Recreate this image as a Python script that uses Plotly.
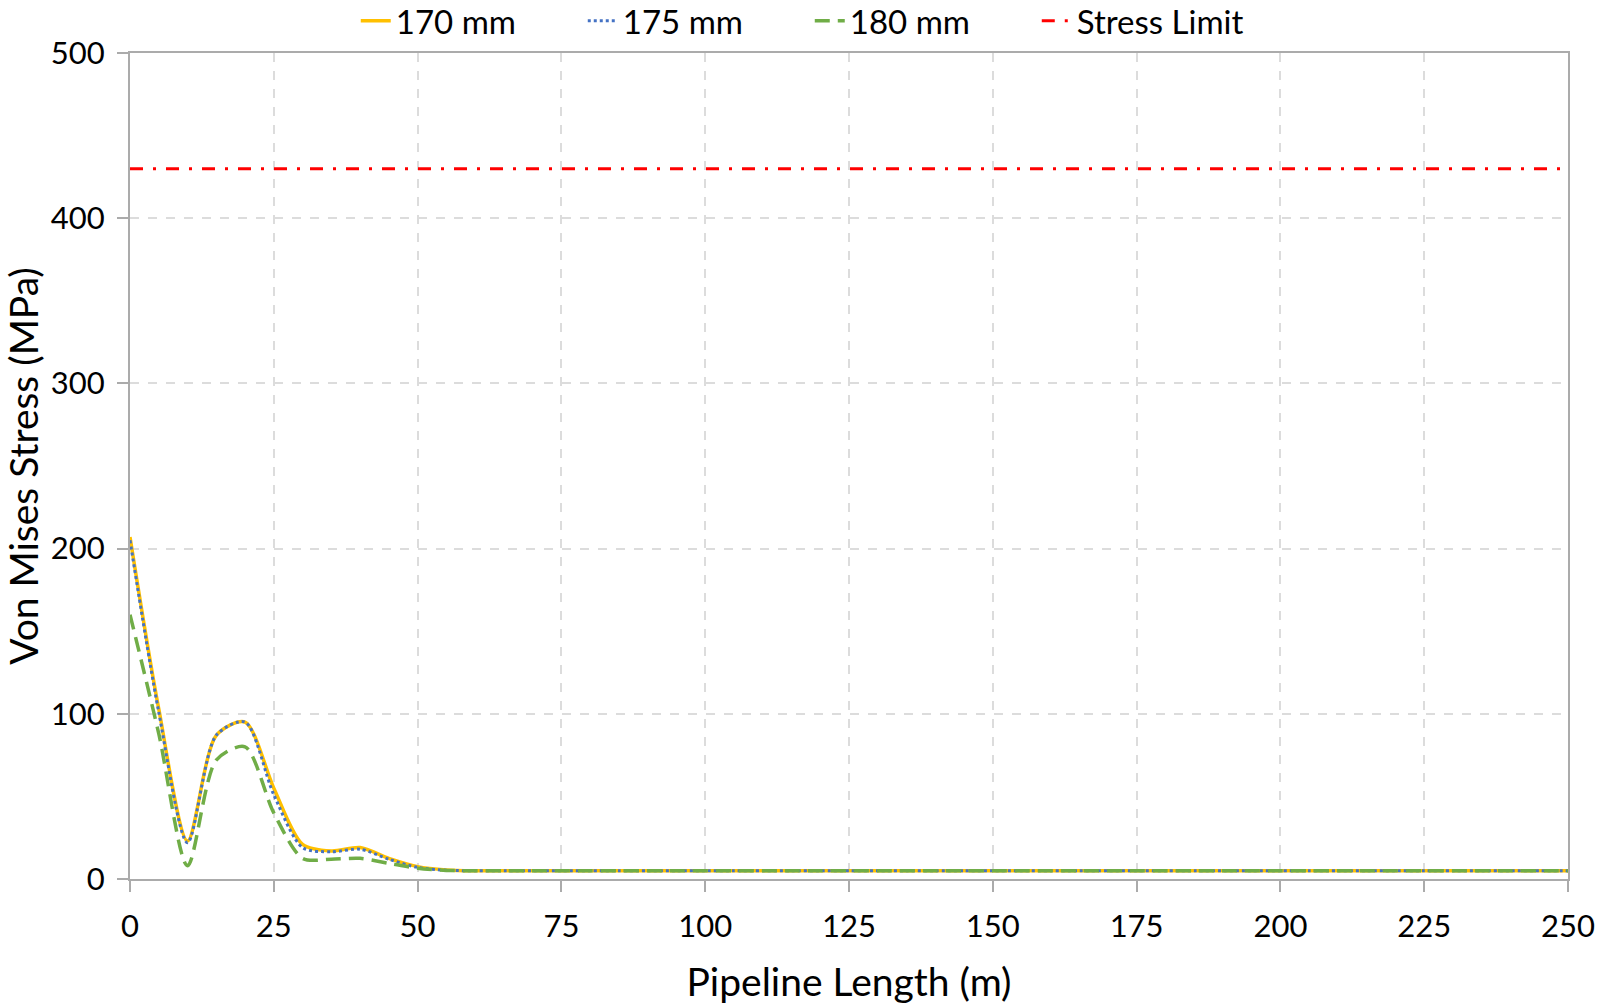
import plotly.graph_objects as go

# pipeline length (m), sampled every 5 m
length = list(range(0, 255, 5))

tail = [5] * 39  # 60 m .. 250 m flat at ~5 MPa
s170 = [207, 103, 23, 87, 95, 55, 21, 17, 19, 12.5, 7.5, 5.5] + tail
s175 = [205, 101, 22, 87, 95, 51, 19, 16.5, 18, 12, 7, 5.3] + tail
s180 = [160, 88, 8, 72, 80, 40, 12.5, 12, 12.5, 9.5, 6.5, 5.2] + tail

limit_x = [0, 250]
limit_y = [430, 430]

font = "Lato, 'Open Sans', sans-serif"
axis_grey = "#ABABAB"
grid_grey = "#DCDCDC"
tick_font = dict(family=font, size=31, color="black")

fig = go.Figure()
fig.add_trace(go.Scatter(x=length, y=s170, name="170 mm", mode="lines",
                         line=dict(color="#FFC000", width=3.5, shape="spline", smoothing=0.8)))
fig.add_trace(go.Scatter(x=length, y=s175, name="175 mm", mode="lines",
                         line=dict(color="#4472C4", width=3, dash="dot", shape="spline", smoothing=0.8)))
fig.add_trace(go.Scatter(x=length, y=s180, name="180 mm", mode="lines",
                         line=dict(color="#70AD47", width=3.5, dash="15px,8px", shape="spline", smoothing=0.8)))
fig.add_trace(go.Scatter(x=limit_x, y=limit_y, name="Stress Limit", mode="lines",
                         line=dict(color="#FF0000", width=3, dash="13px,10px,3px,10px")))

fig.update_layout(
    width=1599, height=1004,
    margin=dict(l=130, r=31, t=53, b=125, autoexpand=False),
    paper_bgcolor="white", plot_bgcolor="white",
    font=dict(family=font, size=32.4, color="black"),
    legend=dict(orientation="h", xref="paper", x=0.157, xanchor="left",
                yref="paper", y=1.039, yanchor="middle",
                font=dict(family=font, size=33, color="black"),
                entrywidth=182, itemwidth=30, bgcolor="rgba(0,0,0,0)"),
    showlegend=True,
)
fig.update_xaxes(
    range=[0, 250], dtick=25, tick0=0, tickfont=tick_font,
    title=dict(text="Pipeline Length (m)", standoff=30),
    showline=True, linecolor=axis_grey, linewidth=2, mirror=True,
    ticks="outside", ticklen=11, tickwidth=2, tickcolor=axis_grey,
    ticklabelstandoff=8, ticklabeloverflow="allow",
    showgrid=True, gridcolor=grid_grey, gridwidth=1.5, griddash="dash",
    zeroline=False,
)
fig.update_yaxes(
    range=[0, 500], dtick=100, tick0=0, tickfont=tick_font,
    title=dict(text="Von Mises Stress (MPa)", standoff=23),
    showline=True, linecolor=axis_grey, linewidth=2, mirror=True,
    ticks="outside", ticklen=11, tickwidth=2, tickcolor=axis_grey,
    ticklabelstandoff=6,
    showgrid=True, gridcolor=grid_grey, gridwidth=1.5, griddash="dash",
    zeroline=False,
)

# drop the default 8px page margin so the figure fills the window exactly
fig.write_html("out.html", config={"displayModeBar": False},
               post_script="document.body.style.margin='0';")
